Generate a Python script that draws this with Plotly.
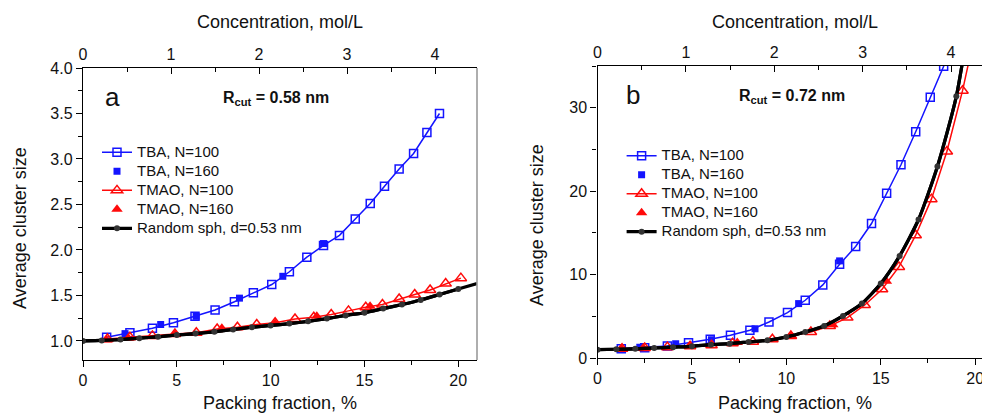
import plotly.graph_objects as go

# ---------------- data ----------------
# packing fraction (%) of the TBA points
tba_x = [1.26, 2.5, 3.7, 4.82, 5.97, 7.04, 8.07, 9.08, 10.06, 11.0, 11.93, 12.82,
         13.67, 14.51, 15.31, 16.07, 16.85, 17.62, 18.33, 19.0]
tba100_a = [1.04, 1.09, 1.14, 1.20, 1.27, 1.34, 1.43, 1.53, 1.62, 1.76, 1.92, 2.05,
            2.16, 2.34, 2.51, 2.70, 2.89, 3.06, 3.29, 3.50]
tba100_b = [1.1, 1.24, 1.44, 1.84, 2.24, 2.72, 3.32, 4.32, 5.44, 6.92, 8.76, 11.24,
            13.36, 16.12, 19.76, 23.16, 27.12, 31.24, 34.96, 41.0]

tba160_x = [2.24, 4.14, 6.03, 8.34, 10.65, 12.82]
tba160_a = [1.08, 1.18, 1.27, 1.47, 1.71, 2.07]
tba160_b = [1.3, 1.72, 2.2, 3.52, 6.52, 11.64]

tmao_x = [1.3, 2.5, 3.7, 4.9, 6.04, 7.15, 8.23, 9.26, 10.24, 11.3, 12.3, 13.23,
          14.15, 15.07, 15.96, 16.85, 17.68, 18.5, 19.33, 20.14]
tmao100_a = [1.02, 1.04, 1.055, 1.075, 1.09, 1.13, 1.15, 1.18, 1.20, 1.24, 1.26, 1.29,
             1.33, 1.37, 1.40, 1.46, 1.51, 1.56, 1.63, 1.69]
tmao100_b = [1.12, 1.2, 1.3, 1.4, 1.52, 1.76, 1.96, 2.24, 2.64, 3.12, 3.84, 4.84,
             6.36, 8.24, 10.92, 14.72, 19.04, 24.76, 32.04, 40.5]

tmao160_x = [1.26, 2.42, 4.9, 7.4, 10.24, 12.46, 15.3]
tmao160_a = [1.01, 1.03, 1.07, 1.14, 1.19, 1.27, 1.38]
tmao160_b = [1.15, 1.2, 1.45, 1.85, 2.7, 4.0, 9.2]

rs_x = [0, 1, 2, 3, 4, 5, 6, 7, 8, 9, 10, 11, 12, 13, 14, 15, 16, 17, 18, 19, 20, 21]
rs_a = [1.00, 1.005, 1.015, 1.03, 1.045, 1.065, 1.08, 1.10, 1.125, 1.15, 1.17, 1.19,
        1.215, 1.245, 1.28, 1.31, 1.355, 1.40, 1.45, 1.51, 1.57, 1.63]
rs_b = [1.0, 1.05, 1.1, 1.2, 1.3, 1.4, 1.6, 1.72, 1.92, 2.12, 2.52, 3.12,
        3.84, 5.04, 6.52, 8.92, 12.24, 16.6, 22.96, 31.36, 45.0, 60.0]
rs_dot_max = 20  # dots are drawn up to 20 %

names = ["TBA, N=100", "TBA, N=160", "TMAO, N=100", "TMAO, N=160", "Random sph, d=0.53 nm"]
panel_labels = ["a", "b"]
rcut_labels = ["0.58 nm", "0.72 nm"]

# ---------------- styling ----------------
FONT = "Liberation Sans, Arial, sans-serif"
BLUE = "#1414ff"
RED = "#ff0a0a"
TXT = "#111"

fig = go.Figure()


def lg(name):
    # legend rows are packed tightly: small legend font, larger visible text
    return '<span style="font-size:15px">' + name + '</span>'


def add_panel(xref, yref, xtop, legend, tba100, tba160, tmao100, tmao160, rs):
    fig.add_trace(go.Scatter(
        x=tba_x, y=tba100, name=lg(names[0]), mode="lines+markers", xaxis=xref, yaxis=yref,
        legend=legend, line=dict(color=BLUE, width=1.5),
        marker=dict(symbol="square-open", size=8, color=BLUE, line=dict(width=1.5))))
    fig.add_trace(go.Scatter(
        x=tba160_x, y=tba160, name=lg(names[1]), mode="markers", xaxis=xref, yaxis=yref,
        legend=legend, marker=dict(symbol="square", size=7, color=BLUE)))
    fig.add_trace(go.Scatter(
        x=tmao_x, y=tmao100, name=lg(names[2]), mode="lines+markers", xaxis=xref, yaxis=yref,
        legend=legend, line=dict(color=RED, width=1.5),
        marker=dict(symbol="triangle-up-open", size=10, color=RED, line=dict(width=1.5))))
    fig.add_trace(go.Scatter(
        x=tmao160_x, y=tmao160, name=lg(names[3]), mode="markers", xaxis=xref, yaxis=yref,
        legend=legend, marker=dict(symbol="triangle-up", size=10, color=RED)))
    # smooth black line over the full range
    fig.add_trace(go.Scatter(
        x=rs_x, y=rs, mode="lines", xaxis=xref, yaxis=yref, showlegend=False,
        line=dict(color="black", width=3.2, shape="spline", smoothing=0.6),
        hoverinfo="skip"))
    dx = [v for v in rs_x if v <= rs_dot_max]
    dy = rs[:len(dx)]
    fig.add_trace(go.Scatter(
        x=dx, y=dy, name=lg(names[4]), mode="lines+markers", xaxis=xref, yaxis=yref,
        legend=legend, line=dict(color="black", width=3.2, shape="spline", smoothing=0.6),
        marker=dict(symbol="circle", size=6, color="#333333")))
    # empty trace so that the top (concentration) axis is drawn
    fig.add_trace(go.Scatter(x=[], y=[], xaxis=xtop, yaxis=yref, showlegend=False,
                             hoverinfo="skip"))


add_panel("x", "y", "x2", "legend", tba100_a, tba160_a, tmao100_a, tmao160_a, rs_a)
add_panel("x3", "y2", "x4", "legend2", tba100_b, tba160_b, tmao100_b, tmao160_b, rs_b)

tickfont = dict(family=FONT, size=16, color=TXT)
common = dict(showline=True, linecolor="black", linewidth=1.4, showgrid=False,
              zeroline=False, tickfont=tickfont, ticklen=6, tickwidth=1.4,
              tickcolor="black", automargin=False)


def minor(d, where):
    return dict(dtick=d, ticks=where, ticklen=4, tickwidth=1.2, tickcolor="black")


fig.update_layout(
    width=982, height=414,
    margin=dict(l=0, r=0, t=0, b=0, autoexpand=False),
    paper_bgcolor="white", plot_bgcolor="white",
    font=dict(family=FONT, color=TXT),
    xaxis=dict(domain=[83 / 982, 477 / 982], range=[0, 21], anchor="y", dtick=5,
               ticks="outside", minor=minor(2.5, "outside"), **common),
    xaxis2=dict(overlaying="x", side="top", anchor="y", range=[0, 4.477], dtick=1,
                ticks="inside", minor=minor(0.5, "inside"), **common),
    yaxis=dict(domain=[1 - 360 / 414, 1 - 68 / 414], range=[0.79, 4.0], anchor="x", dtick=0.5,
               tickformat=".1f", ticks="outside", minor=minor(0.25, "outside"), **common),
    xaxis3=dict(domain=[597.5 / 982, 1.0], range=[0, 20.36], anchor="y2", dtick=5,
                ticks="outside", minor=minor(2.5, "outside"), ticklabeloverflow="allow",
                **common),
    xaxis4=dict(overlaying="x3", side="top", anchor="y2", range=[0, 4.35], dtick=1,
                ticks="inside", minor=minor(0.5, "inside"), **common),
    yaxis2=dict(domain=[1 - 358 / 414, 1 - 66 / 414], range=[0, 35], anchor="x3", dtick=10,
                ticks="outside", minor=minor(5, "outside"), **common),
    legend=dict(x=97 / 982, y=0.667, xanchor="left", yanchor="top", bgcolor="rgba(0,0,0,0)",
                font=dict(family=FONT, size=12, color=TXT), tracegroupgap=0,
                itemwidth=30),
    legend2=dict(x=0.633, y=0.659, xanchor="left", yanchor="top", bgcolor="rgba(0,0,0,0)",
                 font=dict(family=FONT, size=12, color=TXT), tracegroupgap=0,
                 itemwidth=30),
    shapes=[dict(type="line", xref="x domain", yref="y domain", x0=1, x1=1, y0=0, y1=1,
                 line=dict(color="#9a9a9a", width=1.6))],
)

ann = []
label_x = [0.074, 0.092]
rcut_x = [0.49, 0.506]
for i, (xa, ya) in enumerate([("x domain", "y domain"), ("x3 domain", "y2 domain")]):
    ann.append(dict(text=panel_labels[i], xref=xa, yref=ya, x=label_x[i], y=0.9, showarrow=False,
                    xanchor="center", yanchor="middle", font=dict(family=FONT, size=26, color=TXT)))
    ann.append(dict(text="<b>R<sub>cut</sub> = " + rcut_labels[i] + "</b>", xref=xa, yref=ya,
                    x=rcut_x[i], y=0.895, showarrow=False, xanchor="center", yanchor="middle",
                    font=dict(family=FONT, size=16, color=TXT)))
title_font = dict(family=FONT, size=18, color=TXT)
ann += [
    dict(text="Concentration, mol/L", xref="paper", yref="paper", x=280 / 982, y=1 - 22 / 414,
         showarrow=False, xanchor="center", yanchor="middle", font=title_font),
    dict(text="Concentration, mol/L", xref="paper", yref="paper", x=795 / 982, y=1 - 22 / 414,
         showarrow=False, xanchor="center", yanchor="middle", font=title_font),
    dict(text="Packing fraction, %", xref="paper", yref="paper", x=280 / 982, y=1 - 403 / 414,
         showarrow=False, xanchor="center", yanchor="middle", font=title_font),
    dict(text="Packing fraction, %", xref="paper", yref="paper", x=795 / 982, y=1 - 403 / 414,
         showarrow=False, xanchor="center", yanchor="middle", font=title_font),
    dict(text="Average cluster size", xref="paper", yref="paper", x=20 / 982, y=1 - 228 / 414,
         textangle=-90, showarrow=False, xanchor="center", yanchor="middle", font=title_font),
    dict(text="Average cluster size", xref="paper", yref="paper", x=537 / 982, y=1 - 225 / 414,
         textangle=-90, showarrow=False, xanchor="center", yanchor="middle", font=title_font),
]
fig.update_layout(annotations=ann)

fig.write_html("out.html")
